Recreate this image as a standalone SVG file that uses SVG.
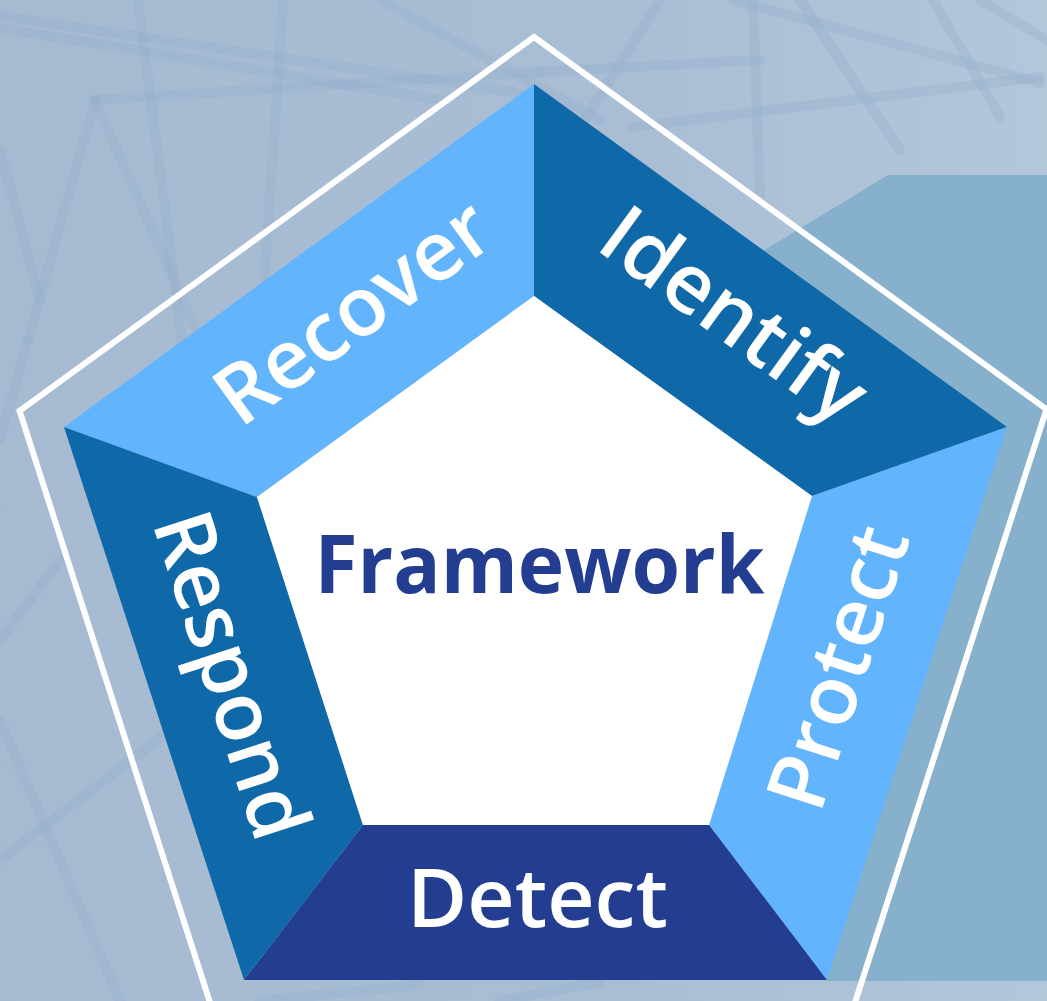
<svg xmlns="http://www.w3.org/2000/svg" width="1047" height="1001" viewBox="0 0 1047 1001">
  <defs>
    <linearGradient id="bgGrad" x1="0" y1="0" x2="1" y2="0">
      <stop offset="0" stop-color="#a6bbd2"/>
      <stop offset="0.6" stop-color="#a9bed5"/>
      <stop offset="1" stop-color="#b3c6da"/>
    </linearGradient>
    <style>
      .mesh { fill: none; stroke: #93abca; stroke-width: 10; stroke-linecap: round; opacity: 0.3; }
      .band-text { font-family: "Open Sans", "Noto Sans", "DejaVu Sans", sans-serif; font-weight: 600; font-size: 82px; fill: #ffffff; text-anchor: middle; }
      .light { fill: #62b5fd; }
      .mid { fill: #0f69a8; }
      .dark { fill: #233e90; }
    </style>
  </defs>

  <!-- backdrop -->
  <rect x="0" y="0" width="1047" height="1001" fill="url(#bgGrad)"/>
  <g id="mesh-lines">
    <line class="mesh" x1="0" y1="16" x2="533" y2="95"/>
    <line class="mesh" x1="0" y1="28" x2="440" y2="100"/>
    <line class="mesh" x1="95" y1="100" x2="540" y2="72"/>
    <line class="mesh" x1="95" y1="100" x2="28" y2="340"/>
    <line class="mesh" x1="95" y1="100" x2="262" y2="480"/>
    <line class="mesh" x1="138" y1="0" x2="192" y2="420"/>
    <line class="mesh" x1="283" y1="0" x2="255" y2="420"/>
    <line class="mesh" x1="28" y1="340" x2="0" y2="440"/>
    <line class="mesh" x1="0" y1="150" x2="40" y2="300"/>
    <line class="mesh" x1="733" y1="0" x2="1040" y2="83"/>
    <line class="mesh" x1="800" y1="0" x2="900" y2="150"/>
    <line class="mesh" x1="753" y1="0" x2="760" y2="200"/>
    <line class="mesh" x1="933" y1="0" x2="1000" y2="117"/>
    <line class="mesh" x1="1040" y1="77" x2="633" y2="127"/>
    <line class="mesh" x1="540" y1="72" x2="760" y2="60"/>
    <line class="mesh" x1="380" y1="0" x2="600" y2="120"/>
    <line class="mesh" x1="980" y1="0" x2="1047" y2="40"/>
    <line class="mesh" x1="660" y1="0" x2="560" y2="160"/>
    <line class="mesh" x1="0" y1="860" x2="210" y2="700"/>
    <line class="mesh" x1="0" y1="720" x2="120" y2="1001"/>
    <line class="mesh" x1="60" y1="560" x2="0" y2="640"/>
    <line class="mesh" x1="260" y1="1001" x2="420" y2="985"/>
    <line class="mesh" x1="500" y1="1001" x2="600" y2="982"/>
  </g>

  <!-- teal panel behind the emblem -->
  <polygon id="panel" points="888,175 1047,175 1047,981 827,981 743,263" fill="#86b0cb"/>

  <!-- outer frame -->
  <polygon id="frame" points="214,1015 19.6,410.8 534,37 1046.5,409.3 851,1015" fill="none" stroke="#ffffff" stroke-width="6" stroke-linejoin="miter"/>

  <g id="recover">
    <polygon class="light" points="64,427 534,84 534,296 257,497"/>
    <text class="band-text" x="369.6" y="335" transform="rotate(-36 369.6 335)" textLength="320" lengthAdjust="spacingAndGlyphs">Recover</text>
  </g>

  <g id="identify">
    <polygon class="mid" points="534,84 1007,427 812,496 534,296"/>
    <text class="band-text" x="717.6" y="337.9" transform="rotate(36 717.6 337.9)" textLength="306" lengthAdjust="spacingAndGlyphs">Identify</text>
  </g>

  <g id="protect">
    <polygon class="light" points="1007,427 827,980 709,825 812,496"/>
    <text class="band-text" x="865.2" y="676.5" transform="rotate(-72 865.2 676.5)" textLength="292" lengthAdjust="spacingAndGlyphs">Protect</text>
  </g>

  <g id="detect">
    <polygon class="dark" points="827,980 244,980 363,825 709,825"/>
    <text class="band-text" x="537.5" y="927" font-size="84" textLength="261" lengthAdjust="spacingAndGlyphs">Detect</text>
  </g>

  <g id="respond">
    <polygon class="mid" points="244,980 64,427 257,497 363,825"/>
    <text class="band-text" x="204.3" y="683.9" transform="rotate(72 204.3 683.9)" textLength="339" lengthAdjust="spacingAndGlyphs">Respond</text>
  </g>

  <g id="framework">
    <polygon points="534,296 812,496 709,825 363,825 257,497" fill="#ffffff"/>
    <text x="539.5" y="592.7" font-family="'Open Sans', 'Noto Sans', 'DejaVu Sans', sans-serif" font-weight="700" font-size="81" fill="#233e90" text-anchor="middle" textLength="450" lengthAdjust="spacingAndGlyphs">Framework</text>
  </g>
</svg>
